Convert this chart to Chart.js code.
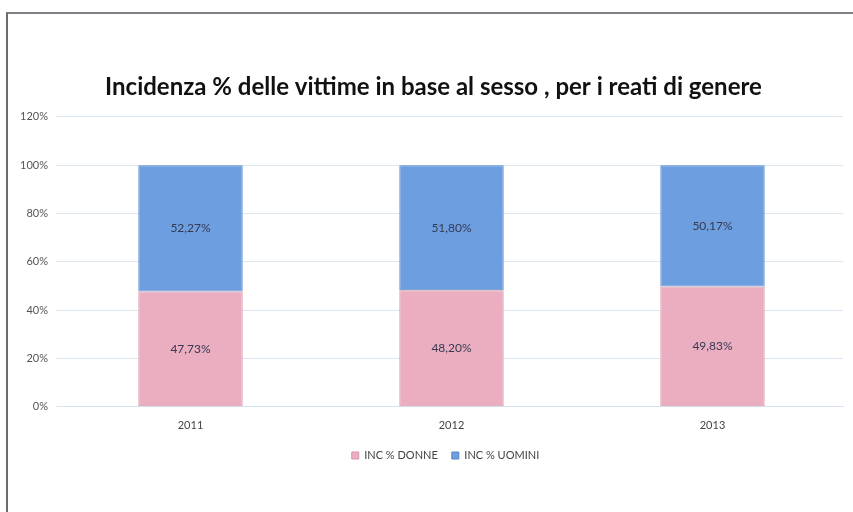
<!DOCTYPE html>
<html>
<head>
<meta charset="utf-8">
<script src="https://cdn.jsdelivr.net/npm/chart.js@4/dist/chart.umd.min.js"></script>
<style>
  body { margin: 0; background: #fff; }
  #wrap { position: relative; width: 853px; height: 512px; }
  #frame { position: absolute; left: 6px; top: 12px; right: 0; bottom: 0;
           border-left: 2px solid #6b6b70; border-top: 2px solid #808088; pointer-events: none; }
</style>
</head>
<body>
<div id="wrap">
  <canvas id="chart" width="853" height="512"></canvas>
  <div id="frame"></div>
</div>
<script>
const years = ["2011", "2012", "2013"];
const donne = [47.73, 48.20, 49.83];
const uomini = [52.27, 51.80, 50.17];
const yTicks = [0, 20, 40, 60, 80, 100, 120];

// draws the value label in the middle of each segment
const segmentLabels = {
  id: "segmentLabels",
  afterDatasetsDraw(chart) {
    const ctx = chart.ctx;
    ctx.save();
    ctx.font = "12px Lato";
    ctx.fillStyle = "#353a52";
    ctx.textAlign = "center";
    ctx.textBaseline = "middle";
    chart.data.datasets.forEach((ds, i) => {
      chart.getDatasetMeta(i).data.forEach((bar, j) => {
        const mid = (bar.y + bar.base) / 2;
        ctx.fillText(ds.data[j].toFixed(2).replace(".", ",") + "%", bar.x, mid);
      });
    });
    ctx.restore();
  }
};

// nudge title and legend a bit right, like the original
const boxShift = {
  id: "boxShift",
  afterLayout(chart) {
    chart.legend.left += 24;
    chart.legend.right += 24;
    chart.titleBlock.left += 12;
    chart.titleBlock.right += 12;
  }
};

new Chart(document.getElementById("chart").getContext("2d"), {
  type: "bar",
  data: {
    labels: years,
    datasets: [
      {
        label: "INC % DONNE",
        data: donne,
        backgroundColor: "#eaaec0",
        borderColor: "#d896a8",
        borderWidth: 1,
        borderSkipped: false
      },
      {
        label: "INC % UOMINI",
        data: uomini,
        backgroundColor: "#6d9ee0",
        borderColor: "#5686c8",
        borderWidth: 1,
        borderSkipped: false
      }
    ]
  },
  options: {
    responsive: false,
    animation: false,
    layout: { padding: { left: 0, right: 10, top: 0, bottom: 41 } },
    datasets: { bar: { barPercentage: 0.4, categoryPercentage: 1 } },
    scales: {
      x: {
        stacked: true,
        grid: { display: false },
        border: { color: "#d8e2ee" },
        ticks: { color: "#444", font: { family: "Lato", size: 11 }, padding: 4 }
      },
      y: {
        stacked: true,
        min: 0,
        max: 120,
        afterFit(scale) { scale.width = 60; },
        afterBuildTicks(scale) { scale.ticks = yTicks.map(v => ({ value: v })); },
        grid: { color: "#dde7f2", tickLength: 4 },
        border: { display: false },
        ticks: {
          color: "#555",
          font: { family: "Lato", size: 11 },
          padding: 8,
          callback: v => v + "%"
        }
      }
    },
    plugins: {
      title: {
        display: true,
        text: "Incidenza % delle vittime in base al sesso , per i reati di genere",
        color: "#111",
        font: { family: "Lato", size: 24, weight: "bold" },
        padding: { top: 73, bottom: 15 }
      },
      legend: {
        position: "bottom",
        labels: {
          boxWidth: 7,
          boxHeight: 7,
          color: "#444",
          font: { family: "Lato", size: 11 },
          padding: 14
        }
      },
      tooltip: { enabled: false }
    }
  },
  plugins: [segmentLabels, boxShift]
});
</script>
</body>
</html>
